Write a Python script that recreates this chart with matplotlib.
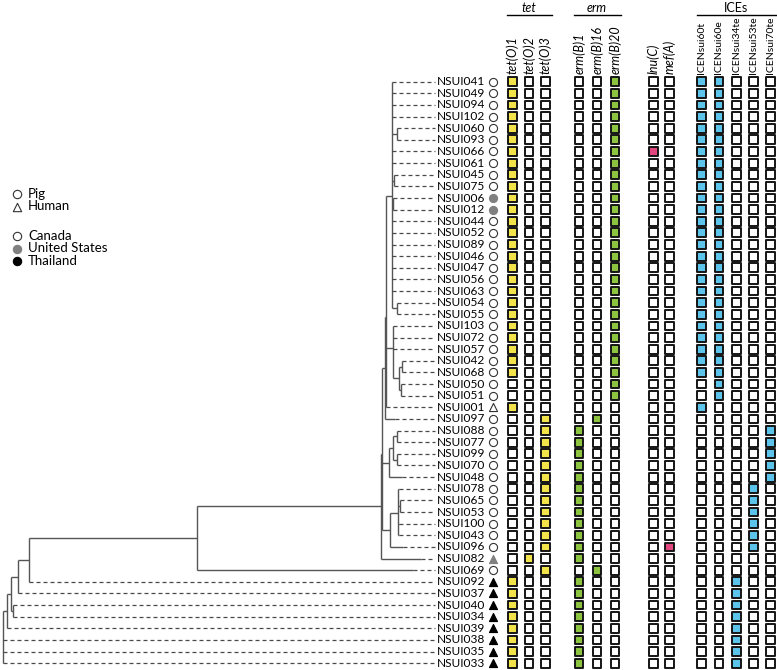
import matplotlib.pyplot as plt

plt.rcParams['font.family'] = ['Lato', 'DejaVu Sans']

# ---- data ----
# tree (branch lengths in substitutions/site), tips in drawing order top -> bottom
tree_newick = (
    "((((((((((("
    "NSUI041:0.0003,NSUI049:0.0003,NSUI094:0.0003,NSUI102:0.0003,"
    "(NSUI060:0.0003,NSUI093:0.0003):0.005,NSUI066:0.0003,NSUI061:0.0003,"
    "(NSUI045:0.0003,NSUI075:0.0003):0.0023,(NSUI006:0.0003,NSUI012:0.0003):0.0013,"
    "NSUI044:0.0003,NSUI052:0.0003,NSUI089:0.0003,NSUI046:0.0003,NSUI047:0.0003,"
    "NSUI056:0.0003,NSUI063:0.0003,(NSUI054:0.0003,NSUI055:0.0003):0.005"
    "):0.0062,"
    "(NSUI103:0.0003,NSUI072:0.0003,NSUI057:0.0003,((NSUI042:0.0003,NSUI068:0.0003):0.0027,"
    "(NSUI050:0.0003,NSUI051:0.0003):0.002):0.006):0.0075,"
    "NSUI001:0.0003"
    "):0.0005,"
    "NSUI097:0.010"
    "):0.0033,"
    "(((NSUI088:0.0003,NSUI077:0.0003):0.0034,(NSUI099:0.0003,NSUI070:0.0003):0.0034):0.004,"
    "NSUI048:0.0124):0.0076,"
    "((NSUI078:0.0003,(NSUI065:0.0003,NSUI053:0.0003):0.0012,NSUI100:0.0003,NSUI043:0.0003):0.0083,"
    "NSUI096:0.013):0.0083"
    "):0.0007,"
    "NSUI082:0.040"
    "):0.1837,"
    "NSUI069:0.2154"
    "):0.168,"
    "NSUI092:0"
    "):0.0116,"
    "NSUI037:0"
    "):0.0070,"
    "(NSUI040:0,NSUI034:0):0.0026"
    "):0.0034,"
    "NSUI039:0"
    "):0.0046,"
    "NSUI038:0,NSUI035:0,NSUI033:0"
    ");"
)

# host: P = pig, H = human ; country: C = Canada, U = United States, T = Thailand
host    = "PPPPPPPPPP PPPPPPPPPP PPPPPPPPHP PPPPPPPPPP PHPHHHHHHHH".replace(" ", "")
country = "CCCCCCCCCC UUCCCCCCCC CCCCCCCCCC CCCCCCCCCC CUCTTTTTTTT".replace(" ", "")

genes = ['tet(O)1', 'tet(O)2', 'tet(O)3', 'erm(B)1', 'erm(B)16', 'erm(B)20',
         'lnu(C)', 'mef(A)', 'ICENsui60t', 'ICENsui60e', 'ICENsui34te',
         'ICENsui53te', 'ICENsui70te']
presence = {
    'tet(O)1':     "1111111111 1111111111 1111110010 0000000000 00011111111",
    'tet(O)2':     "0000000000 0000000000 0000000000 0000000000 01000000000",
    'tet(O)3':     "0000000000 0000000000 0000000001 1111111111 10100000000",
    'erm(B)1':     "0000000000 0000000000 0000000000 1111111111 11011111111",
    'erm(B)16':    "0000000000 0000000000 0000000001 0000000000 00100000000",
    'erm(B)20':    "1111111111 1111111111 1111111100 0000000000 00000000000",
    'lnu(C)':      "0000001000 0000000000 0000000000 0000000000 00000000000",
    'mef(A)':      "0000000000 0000000000 0000000000 0000000000 10000000000",
    'ICENsui60t':  "1111111111 1111111111 1111110010 0000000000 00000000000",
    'ICENsui60e':  "1111111111 1111111111 1111111100 0000000000 00000000000",
    'ICENsui34te': "0000000000 0000000000 0000000000 0000000000 00011111111",
    'ICENsui53te': "0000000000 0000000000 0000000000 0000011111 10000000000",
    'ICENsui70te': "0000000000 0000000000 0000000000 1111100000 00000000000",
}
groups = [('tet', ['tet(O)1', 'tet(O)2', 'tet(O)3']),
          ('erm', ['erm(B)1', 'erm(B)16', 'erm(B)20']),
          ('', ['lnu(C)', 'mef(A)']),
          ('ICEs', ['ICENsui60t', 'ICENsui60e', 'ICENsui34te', 'ICENsui53te', 'ICENsui70te'])]

host_names = {'P': 'Pig', 'H': 'Human'}
country_names = {'C': 'Canada', 'U': 'United States', 'T': 'Thailand'}

# ---- layout / style ----
ROW0, ROW_STEP = 81.7, 11.63
ROOT_X, PX_PER_UNIT = 2.7, 1000.0
LABEL_X, HOST_X = 437, 493
group_start = [512.3, 579.0, 653.3, 701.7]
group_step = [16.7, 18.0, 16.0, 17.25]
fill = {'tet': '#f3e34a', 'erm': '#8cc43f', '': '#e2467f', 'ICEs': '#5cc3ea'}
country_col = {'C': 'white', 'U': '#808080', 'T': 'black'}
TREE_COL, DASH_COL = '#555555', '#4a4a4a'


def parse_newick(s):
    pos = 0

    def node():
        nonlocal pos
        children = []
        if s[pos] == '(':
            pos += 1
            while True:
                children.append(node())
                if s[pos] == ',':
                    pos += 1
                else:
                    pos += 1
                    break
        start = pos
        while s[pos] not in ':,);':
            pos += 1
        name = s[start:pos]
        length = 0.0
        if s[pos] == ':':
            pos += 1
            start = pos
            while s[pos] not in ',);':
                pos += 1
            length = float(s[start:pos])
        return {'name': name, 'len': length, 'children': children}

    return node()


def row_y(i):
    return ROW0 + i * ROW_STEP


tips = []


def layout(n, x):
    n['x'] = x
    if not n['children']:
        n['y'] = row_y(len(tips))
        tips.append(n['name'])
    else:
        for c in n['children']:
            layout(c, x + c['len'] * PX_PER_UNIT)
        n['y'] = sum(c['y'] for c in n['children']) / len(n['children'])


fig = plt.figure(figsize=(7.77, 6.70), dpi=100)
ax = fig.add_axes([0, 0, 1, 1])
ax.set_xlim(0, 777)
ax.set_ylim(670, 0)
ax.axis('off')

tree = parse_newick(tree_newick)
layout(tree, ROOT_X)


def draw(n):
    if n['children']:
        ys = [c['y'] for c in n['children']]
        ax.plot([n['x'], n['x']], [min(ys), max(ys)], color=TREE_COL, lw=1.0, solid_capstyle='butt')
        for c in n['children']:
            ax.plot([n['x'], c['x']], [c['y'], c['y']], color=TREE_COL, lw=1.0, solid_capstyle='butt')
            draw(c)
    else:
        ax.plot([n['x'], LABEL_X - 2], [n['y'], n['y']], color=DASH_COL, lw=0.9,
                dashes=(3.2, 2.4))


draw(tree)

rows_y = [row_y(i) for i in range(len(tips))]
for name, y in zip(tips, rows_y):
    ax.text(LABEL_X, y, name, va='center', ha='left', fontsize=8.6)

# host / country symbols
for i, y in enumerate(rows_y):
    mk = 'o' if host[i] == 'P' else '^'
    fc = country_col[country[i]]
    ec = '#333333' if country[i] == 'C' else fc
    ax.scatter([HOST_X], [y], marker=mk, s=34, facecolors=fc, edgecolors=ec, linewidths=0.8, zorder=3)

# presence / absence matrix
for g, (title, cols) in enumerate(groups):
    xs = [group_start[g] + k * group_step[g] for k in range(len(cols))]
    for x, gene in zip(xs, cols):
        vals = presence[gene].replace(" ", "")
        fcs = [fill[title] if v == '1' else 'white' for v in vals]
        ax.scatter([x] * len(vals), rows_y, marker='s', s=40, facecolors=fcs,
                   edgecolors='#151515', linewidths=1.4, zorder=3)
        if gene.startswith('ICE'):
            ax.text(x, 74, gene, rotation=90, ha='center', va='bottom', fontsize=7.5)
        else:
            ax.text(x, 74, gene, rotation=90, ha='center', va='bottom', fontsize=9, style='italic')
    if title:
        ax.text(sum(xs) / len(xs), 8, title, ha='center', va='center', fontsize=9,
                style='normal' if title == 'ICEs' else 'italic')
        ax.plot([xs[0] - 5, min(xs[-1] + 6, 777)], [15, 15], color='black', lw=1.0)

# legend
leg_y = 194
for code in ['P', 'H']:
    mk = 'o' if code == 'P' else '^'
    ax.scatter([17], [leg_y], marker=mk, s=36, facecolors='white', edgecolors='#333333', linewidths=0.8)
    ax.text(28, leg_y, host_names[code], va='center', ha='left', fontsize=9.5)
    leg_y += 12.5
leg_y += 17
for code in ['C', 'U', 'T']:
    fc = country_col[code]
    ax.scatter([17], [leg_y], marker='o', s=36, facecolors=fc,
               edgecolors='#333333' if code == 'C' else fc, linewidths=0.8)
    ax.text(28, leg_y, country_names[code], va='center', ha='left', fontsize=9.5)
    leg_y += 12.5

fig.savefig('out.png', dpi=100)
